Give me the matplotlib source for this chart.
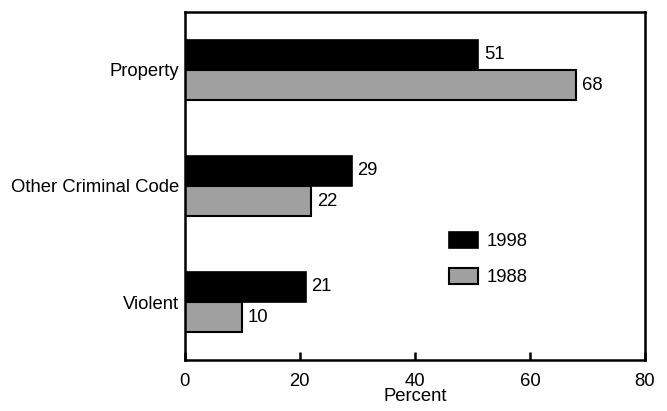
import numpy as np
import matplotlib; matplotlib.use("Agg")
import matplotlib.pyplot as plt

plt.rcParams["font.family"] = ["Liberation Sans", "DejaVu Sans"]

categories = ["Violent", "Other Criminal Code", "Property"]
v1998 = [21, 29, 51]
v1988 = [10, 22, 68]

fs = 13.3
fig = plt.figure(figsize=(6.67, 4.11), dpi=100)
ax = fig.add_axes([0.277, 0.124, 0.690, 0.847])
y = np.arange(len(categories))
h = 0.26
b1 = ax.barh(y + h/2, v1998, h, color="black", edgecolor="black", lw=1.2, label="1998")
b2 = ax.barh(y - h/2, v1988, h, color="#a0a0a0", edgecolor="black", lw=1.5, label="1988")
for bars in (b1, b2):
    for r in bars:
        ax.text(r.get_width() + 1.0, r.get_y() + r.get_height()/2, "%d" % r.get_width(),
                va="center", ha="left", fontsize=fs)

ax.set_xlim(0, 80); ax.set_ylim(-0.5, 2.5)
ax.set_xticks([0, 20, 40, 60, 80])
ax.set_yticks(y); ax.set_yticklabels(categories, fontsize=fs)
ax.tick_params(axis="x", direction="in", length=6, width=1.8, labelsize=fs, pad=9)
ax.tick_params(axis="y", length=0, pad=4)
for s in ax.spines.values(): s.set_linewidth(1.8)
ax.set_xlabel("Percent", fontsize=fs, labelpad=-1)
ax.legend(loc="center left", bbox_to_anchor=(0.537, 0.29), frameon=False, fontsize=fs,
          handlelength=1.6, handleheight=0.95, labelspacing=0.95, handletextpad=0.45)
fig.savefig("out.png", dpi=100)
